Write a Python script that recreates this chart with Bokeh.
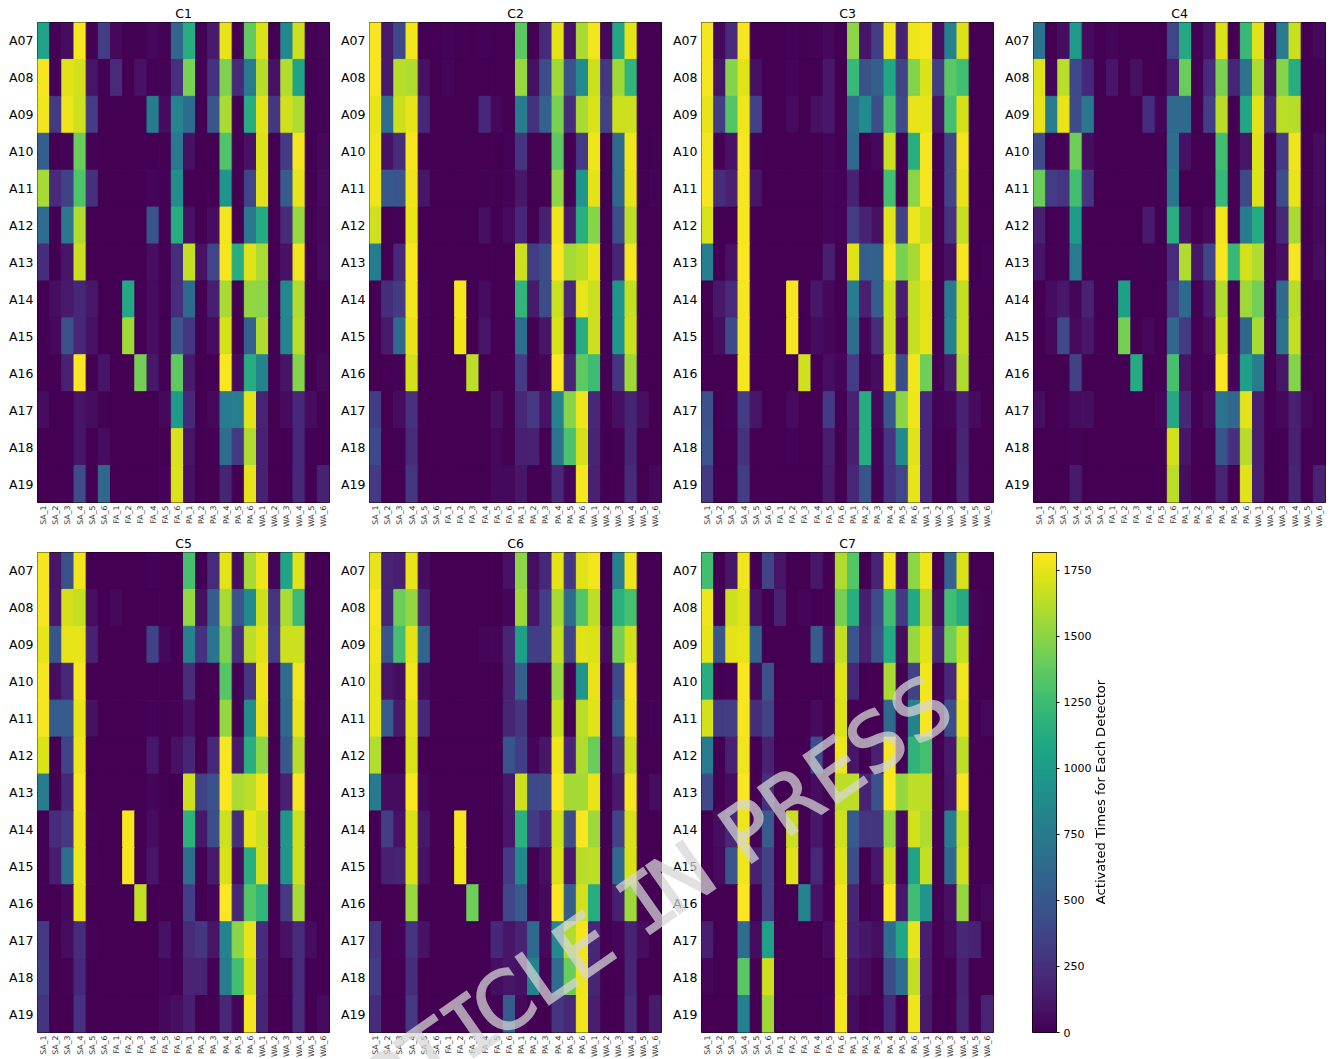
import numpy as np
from bokeh.embed import file_html
from bokeh.layouts import column, row
from bokeh.models import (ColumnDataSource, Div, FactorRange, FixedTicker, LinearAxis,
                          LinearColorMapper, Range1d, Spacer)
from bokeh.palettes import Viridis256
from bokeh.plotting import figure
from bokeh.resources import INLINE
from bokeh.transform import transform

antennas = ["A07","A08","A09","A10","A11","A12","A13","A14","A15","A16","A17","A18","A19"]
detectors = ["SA_1","SA_2","SA_3","SA_4","SA_5","SA_6","FA_1","FA_2","FA_3","FA_4","FA_5","FA_6",
             "PA_1","PA_2","PA_3","PA_4","PA_5","PA_6","WA_1","WA_2","WA_3","WA_4","WA_5","WA_6"]
colorbar_ticks = [0, 250, 500, 750, 1000, 1250, 1500, 1750]
value_max = 1818

C1 = [
[1050,20,60,1790,10,330,40,10,10,40,20,600,1130,10,130,1760,5,1380,1720,5,850,1680,10,30],
[1790,15,1730,1700,100,10,220,5,90,20,20,250,1450,5,260,1470,220,750,1620,90,1610,1060,10,20],
[1780,300,1770,1680,330,5,5,5,5,770,50,820,640,5,480,1590,5,1130,1740,290,1690,1600,15,15],
[540,5,20,1400,20,5,5,5,5,5,5,730,80,5,5,1320,5,90,1720,5,320,1790,10,40],
[1580,220,350,1320,250,5,5,5,5,30,10,900,5,5,5,950,5,380,1730,5,520,1750,10,50],
[650,5,730,1600,5,5,5,5,5,470,5,1130,90,5,60,1780,5,720,1120,5,230,1540,10,40],
[240,5,110,1670,5,5,5,5,5,70,5,240,1650,90,380,1790,1130,1730,1590,5,90,1780,10,50],
[5,70,130,200,120,5,5,1100,5,60,5,230,620,5,150,1590,5,1520,1500,5,850,1600,5,10],
[5,40,450,200,90,5,5,1560,5,70,5,480,290,5,60,1700,5,560,1600,5,820,1630,5,10],
[5,5,170,1810,5,100,5,5,1440,120,5,1370,130,5,5,1800,50,1130,820,5,100,1480,5,40],
[60,5,5,100,60,10,5,5,5,5,40,1000,200,5,40,750,780,1740,180,5,50,200,60,10],
[5,5,5,100,5,60,5,5,5,5,5,1720,100,5,5,660,300,1600,170,5,5,200,5,5],
[5,5,5,430,5,600,5,5,5,5,20,1720,80,5,5,190,5,1750,170,5,5,210,5,170],
]
C2 = [
[1790,130,400,1780,5,5,20,10,5,20,5,5,1360,5,220,1740,90,1590,1780,40,1090,1740,5,5],
[1790,130,1620,1600,80,5,30,5,5,5,5,5,1540,80,430,1560,450,880,1670,290,1560,1200,5,5],
[1760,650,1680,1750,200,5,5,5,5,200,40,5,760,260,570,1450,230,1590,1710,350,1680,1680,5,5],
[1770,90,230,1790,5,5,5,5,5,5,5,15,270,5,5,1360,5,310,1770,5,630,1780,5,10],
[1770,500,480,1770,110,5,5,5,5,10,10,15,120,5,5,1510,5,950,1740,5,600,1760,5,15],
[1690,5,15,1760,5,5,5,5,5,70,5,50,210,5,170,1770,130,1150,1490,5,440,1640,5,5],
[770,5,200,1800,5,5,5,5,5,5,5,5,1680,330,420,1800,1570,1620,1760,5,190,1790,5,5],
[5,240,320,1780,20,5,5,1790,5,60,5,5,1200,130,420,1670,200,1750,1670,20,950,1650,5,5],
[5,130,620,1760,15,5,5,1770,5,100,5,5,670,10,110,1710,50,1130,1680,5,950,1680,5,5],
[5,5,15,1700,5,5,5,5,1640,5,5,5,320,5,30,1810,180,1370,1250,5,280,1560,5,5],
[340,5,60,260,10,5,5,5,5,5,80,5,200,300,90,820,1490,1770,210,5,70,190,70,5],
[400,5,10,220,5,5,5,5,5,5,40,5,160,170,10,700,1300,1700,190,5,10,190,5,5],
[300,5,5,290,5,5,5,5,5,5,40,40,110,5,5,210,30,1790,170,5,5,220,5,40],
]
C3 = [
[1790,40,220,1790,5,5,5,15,10,20,40,5,1500,100,330,1780,180,1770,1790,70,800,1720,5,5],
[1790,100,1480,1730,80,5,5,30,5,5,120,5,1230,450,550,1080,370,1480,1720,340,1350,1270,5,5],
[1760,330,1330,1770,350,5,5,50,5,80,120,5,650,880,440,1290,400,1760,1750,100,1280,1700,5,5],
[1780,15,90,1790,15,5,5,5,5,5,30,5,620,5,40,1670,5,1150,1790,5,360,1780,5,5],
[1790,230,170,1790,100,5,5,5,5,5,30,15,170,5,5,1270,5,1500,1790,5,370,1760,5,5],
[1710,5,5,1790,5,5,5,5,5,5,25,15,320,180,80,1730,360,1770,1680,5,260,1660,5,5],
[780,5,90,1800,5,5,5,5,5,5,150,5,1730,540,560,1800,1450,1580,1790,5,80,1790,5,15],
[5,120,220,1790,5,5,5,1790,5,120,40,5,770,170,530,1680,150,1650,1740,5,750,1650,5,5],
[5,70,410,1790,10,5,5,1790,5,60,30,5,660,30,240,1670,80,1660,1750,5,800,1660,5,5],
[5,5,5,1790,5,5,5,5,1690,5,70,30,320,10,60,1760,440,1780,1420,5,130,1600,5,5],
[450,5,20,320,100,5,5,50,5,5,310,5,170,1130,40,500,1500,1770,210,20,30,170,50,5],
[480,5,5,260,5,5,5,20,5,5,140,5,150,1130,15,280,860,1730,210,5,5,190,5,5],
[310,5,5,330,5,5,5,5,5,5,130,10,210,470,5,260,380,1750,200,5,5,210,5,5],
]
C4 = [
[680,5,70,1000,50,5,30,5,5,5,5,380,1100,5,100,1720,5,1230,1730,5,750,1670,5,40],
[1730,30,1630,400,200,5,110,5,80,5,5,150,1400,5,220,1460,190,700,1590,80,1490,1130,5,10],
[1760,770,1760,420,730,5,5,5,5,240,30,620,620,5,340,1620,5,1090,1740,200,1630,1620,5,5],
[420,5,20,1420,60,5,5,5,5,5,5,660,90,5,5,1270,5,100,1720,5,310,1770,5,50],
[1400,320,280,1270,270,5,5,5,5,5,5,700,5,5,5,1220,5,400,1720,5,430,1760,5,50],
[160,5,15,1000,5,5,5,5,5,130,5,1150,120,5,50,1780,5,760,1120,5,200,1580,5,40],
[100,5,15,740,5,5,5,5,5,10,5,220,1600,120,380,1800,1220,1700,1600,5,70,1790,5,60],
[5,60,120,30,170,5,5,1030,5,5,5,320,620,5,130,1610,10,1560,1430,5,620,1620,5,5],
[5,40,400,50,120,5,5,1440,5,40,5,600,320,5,50,1690,5,620,1580,5,680,1650,5,5],
[5,5,5,360,5,5,5,5,1120,5,5,1290,100,5,15,1810,30,1040,760,5,100,1480,5,20],
[70,5,20,60,70,5,5,5,5,5,30,1100,210,5,50,690,600,1740,150,5,40,170,40,5],
[5,5,5,20,5,5,5,5,5,5,5,1700,110,5,5,470,250,1620,150,5,5,170,5,5],
[5,5,5,130,5,5,5,5,5,5,5,1630,70,5,5,180,5,1730,160,5,5,190,5,170],
]
C5 = [
[1790,110,450,1780,5,5,5,5,5,20,5,5,1290,5,220,1740,70,1580,1770,30,1060,1730,5,5],
[1790,120,1700,1660,70,5,40,5,5,5,5,5,1530,80,530,1590,480,870,1680,270,1590,1240,5,5],
[1750,490,1750,1750,170,5,5,5,5,360,40,5,800,260,700,1470,240,1640,1740,320,1680,1680,5,5],
[1790,70,200,1790,5,5,5,5,5,5,5,5,230,5,5,1340,5,290,1770,5,640,1780,5,5],
[1790,530,530,1760,80,5,5,5,5,15,10,15,90,5,5,1530,5,900,1760,5,620,1760,5,20],
[1720,5,370,1770,5,5,5,5,5,120,5,90,190,5,200,1790,130,1140,1510,5,500,1620,5,5],
[760,5,200,1800,5,5,5,5,5,30,10,5,1680,350,450,1800,1590,1640,1770,5,170,1790,5,5],
[5,230,300,1780,20,5,5,1790,5,60,5,5,1170,120,440,1680,240,1750,1680,5,950,1680,5,5],
[5,140,660,1770,15,5,5,1790,5,110,5,5,650,10,130,1710,60,1150,1700,5,950,1680,5,5],
[5,5,40,1760,5,5,5,5,1650,5,5,5,340,5,30,1810,210,1340,1200,5,300,1580,5,5],
[300,5,60,240,20,5,5,5,5,5,90,5,220,290,100,820,1500,1750,240,5,90,230,60,5],
[340,5,15,200,5,5,5,5,5,5,30,5,180,180,10,760,1270,1700,210,5,10,220,5,5],
[270,5,5,260,5,5,5,5,5,5,40,70,150,5,5,210,30,1790,190,5,5,230,5,50],
]
C6 = [
[1760,180,150,1760,60,5,5,5,5,5,5,90,1500,70,200,1740,290,1730,1780,5,790,1770,5,5],
[1790,190,1410,1520,190,5,5,5,5,5,5,30,1560,100,330,1580,640,1330,1640,20,1170,1290,5,5],
[1770,470,1280,1740,590,5,5,5,5,30,30,190,1030,340,340,1650,370,1730,1720,50,1440,1690,5,5],
[1750,100,70,1780,50,5,5,5,5,5,5,170,560,5,5,1540,5,950,1760,5,400,1790,5,5],
[1750,510,130,1740,210,5,5,5,5,5,5,190,280,5,5,1660,5,1630,1730,5,510,1780,5,20],
[1610,5,5,1710,5,5,5,5,5,5,5,470,340,30,110,1770,180,1600,1400,5,240,1680,5,5],
[740,60,60,1800,40,5,5,5,5,5,10,120,1680,400,400,1800,1570,1570,1760,5,130,1790,5,60],
[5,330,90,1720,120,5,5,1790,5,5,5,110,1160,300,200,1690,420,1800,1550,5,370,1710,5,5],
[5,160,190,1720,90,5,5,1780,5,5,5,300,870,5,70,1720,120,1620,1640,5,620,1710,5,5],
[5,5,5,1540,5,5,5,5,1420,5,5,390,520,5,40,1810,550,1700,1130,5,160,1550,5,5],
[280,5,20,270,90,5,5,5,5,5,210,110,180,620,40,860,1600,1780,200,5,30,180,60,5],
[330,5,5,230,5,5,5,5,5,5,70,100,80,800,15,650,1410,1770,190,5,5,190,5,5],
[240,5,5,300,5,5,5,5,5,5,15,530,40,5,5,270,210,1780,150,5,5,220,5,130],
]
C7 = [
[1270,5,110,1780,5,380,100,5,5,120,5,1600,1340,5,190,1780,50,1510,1770,5,570,1710,5,5],
[1770,10,1680,1730,90,5,170,5,30,5,5,1440,1150,150,420,1270,310,1100,1610,60,1260,1120,30,10],
[1750,480,1740,1750,560,5,5,5,5,520,60,1650,480,170,450,1120,60,1540,1730,190,1430,1660,20,5],
[1130,5,20,1800,40,450,5,5,5,5,5,1730,200,5,5,1590,5,360,1780,5,210,1780,5,5],
[1700,320,340,1790,240,370,5,5,5,50,5,1720,5,5,5,620,5,800,1800,5,430,1760,5,40],
[750,5,170,1770,5,170,5,5,5,440,5,1770,110,5,170,1790,5,1180,1280,5,120,1640,5,5],
[400,5,60,1800,5,250,5,5,5,60,5,1640,1640,180,450,1800,1530,1640,1640,5,110,1790,5,5],
[5,70,200,1770,15,520,5,1670,5,120,5,1690,520,280,280,1530,60,1700,1600,5,760,1650,5,5],
[5,50,480,1770,160,350,5,1730,5,200,5,1730,430,5,120,1680,15,1050,1650,5,620,1690,5,5],
[5,5,5,1810,5,350,5,5,820,100,5,1780,190,5,30,1810,120,1260,950,5,80,1530,5,40],
[150,5,5,650,60,1040,5,5,5,5,50,1780,170,120,70,650,1070,1750,150,5,50,200,170,5],
[30,5,5,1350,5,1680,5,5,5,5,5,1770,100,60,5,420,650,1650,140,5,5,170,5,5],
[5,5,5,800,5,1560,5,5,5,5,20,1790,60,5,5,210,5,1770,130,5,5,190,5,180],
]
panels = {"C1": C1, "C2": C2, "C3": C3, "C4": C4, "C5": C5, "C6": C6, "C7": C7}
watermark = "ARTICLE IN PRESS"
colorbar_label = "Activated Times for Each Detector"

mapper = LinearColorMapper(palette=Viridis256, low=0, high=value_max)
FONT = "DejaVu Sans"
FRAME_W, FRAME_H = 292, 480


def panel(name, left, right, bottom):
    rows = panels[name]
    src = ColumnDataSource(dict(
        det=[d for _ in antennas for d in detectors],
        ant=[a for a in antennas for _ in detectors],
        val=[v for r in rows for v in r],
    ))
    p = figure(x_range=FactorRange(factors=detectors), y_range=FactorRange(factors=antennas[::-1]),
               frame_width=FRAME_W, frame_height=FRAME_H, output_backend="svg", toolbar_location=None,
               min_border_left=left, min_border_right=right, min_border_top=0, min_border_bottom=bottom,
               title=name)
    p.x_range.range_padding = 0
    p.y_range.range_padding = 0
    p.rect("det", "ant", width=1, height=1, source=src, fill_color=transform("val", mapper),
           line_color=transform("val", mapper), line_width=1)
    p.title.align = "center"
    p.title.text_font = FONT
    p.title.text_font_size = "12.5px"
    p.title.text_font_style = "normal"
    p.title.text_color = "black"
    p.title.standoff = 3
    p.grid.visible = False
    p.outline_line_color = "black"
    p.outline_line_width = 1
    p.outline_line_alpha = 1
    for ax in (p.xaxis[0], p.yaxis[0]):
        ax.axis_line_color = None
        ax.major_tick_line_color = None
        ax.minor_tick_line_color = None
        ax.major_tick_out = 0
        ax.major_tick_in = 0
        ax.major_label_text_font = FONT
    p.xaxis[0].major_label_orientation = np.pi / 2
    p.xaxis[0].major_label_text_font_size = "7.8px"
    p.xaxis[0].major_label_text_color = "#333333"
    p.xaxis[0].major_label_standoff = 3
    p.yaxis[0].major_label_text_font_size = "12.5px"
    p.yaxis[0].major_label_text_color = "black"
    p.yaxis[0].major_label_standoff = 4
    return p


f1 = panel("C1", 37, 9, 30)
f2 = panel("C2", 30, 9, 30)
f3 = panel("C3", 30, 9, 30)
f4 = panel("C4", 30, 8, 30)
f5 = panel("C5", 37, 9, 25)
f6 = panel("C6", 30, 9, 25)
f7 = panel("C7", 30, 9, 25)

cb = figure(x_range=Range1d(0, 1), y_range=Range1d(0, value_max), frame_width=24, frame_height=FRAME_H,
            output_backend="svg", toolbar_location=None, min_border_left=30, min_border_right=200,
            min_border_top=20, min_border_bottom=25, x_axis_location=None, y_axis_location=None)
cb.image(image=[np.linspace(0, value_max, 256).reshape(-1, 1)], x=0, y=0, dw=1, dh=value_max, color_mapper=mapper)
cb.grid.visible = False
cb.outline_line_color = "black"
cb.outline_line_width = 1
cb.outline_line_alpha = 1
cb_axis = LinearAxis(ticker=FixedTicker(ticks=colorbar_ticks),
                     axis_line_color=None, major_tick_in=0, major_tick_out=3, minor_tick_line_color=None,
                     major_tick_line_color="black", major_label_text_font=FONT, major_label_text_font_size="11px",
                     major_label_text_color="black", major_label_standoff=4)
cb.add_layout(cb_axis, "right")


def watermark_html(text):
    # The reference's barred "I" is taken from the mono face, narrowed to the reference's spacing.
    out = []
    for ch in text:
        if ch == "I":
            out.append("<span style=\"font-family:'DejaVu Sans Mono';letter-spacing:-0.15em;\">I</span>")
        elif ch == "S":
            out.append('<span style="letter-spacing:0.05em;">S</span>')
        elif ch == " ":
            out.append('<span style="letter-spacing:0.034em;"> </span>')
        else:
            out.append(ch)
    return "".join(out)


overlay = Div(width=0, height=0, text=(
    '<div style="position:fixed;left:0;top:0;width:1335px;height:1059px;overflow:hidden;'
    'pointer-events:none;z-index:10;">'
    '<span style="position:absolute;left:1100px;top:792px;white-space:nowrap;color:black;'
    'transform:translate(-50%,-50%) rotate(-90deg);'
    f'font:13.1px \'DejaVu Sans\';">{colorbar_label}</span>'
    '<span style="position:absolute;left:326px;top:1128px;'
    "font:80px 'DejaVu Sans';line-height:0;white-space:nowrap;transform-origin:0 0;"
    'transform:rotate(-35deg);color:#d6d6d6;opacity:0.73;'
    f'-webkit-text-stroke:1.5px #d6d6d6;">{watermark_html(watermark)}</span></div>'))

layout = column(Spacer(height=2), row(f1, f2, f3, f4, spacing=0), row(f5, f6, f7, cb, spacing=0), overlay, spacing=0)
open("out.html", "w").write(file_html(layout, INLINE))
